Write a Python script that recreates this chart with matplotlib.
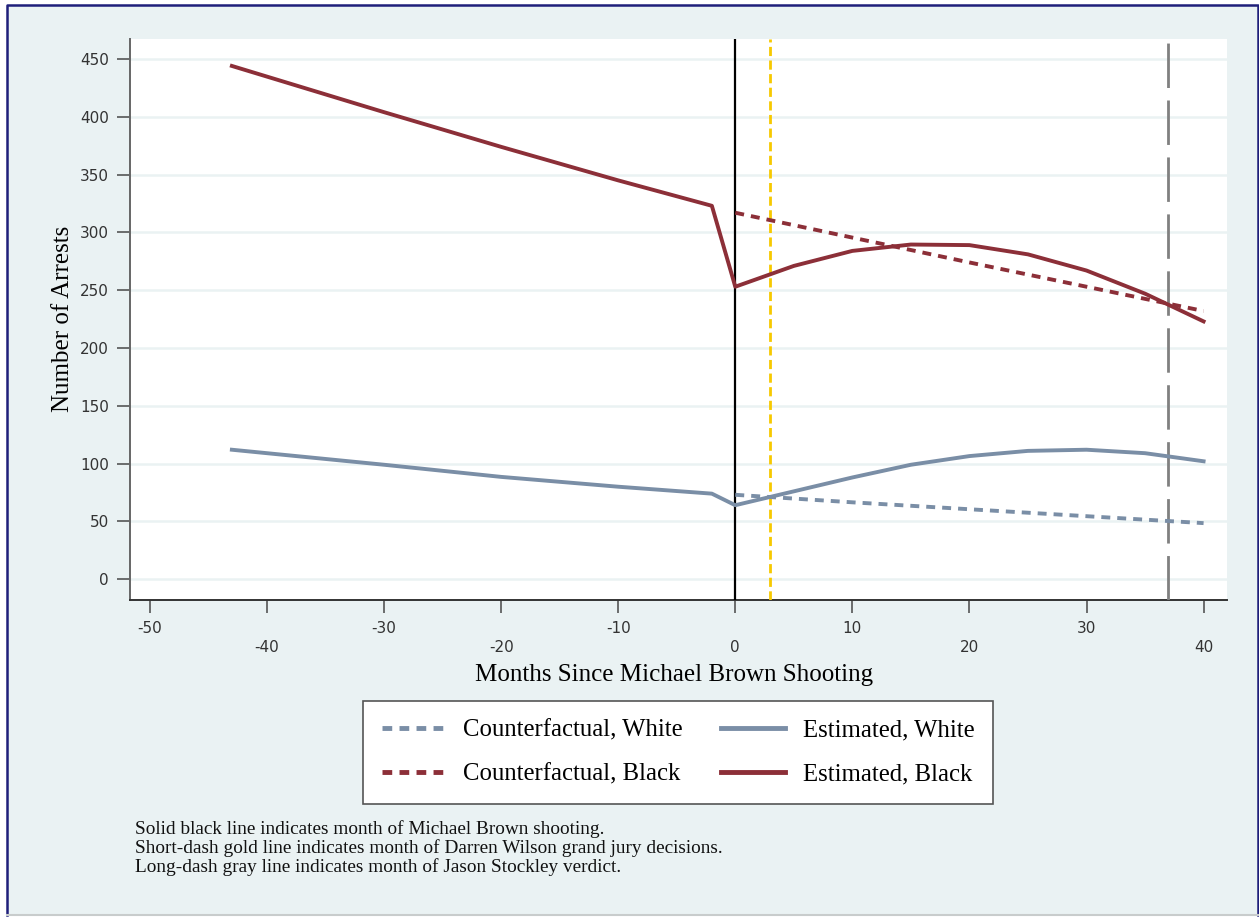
import matplotlib
matplotlib.use("Agg")
import matplotlib.pyplot as plt
from matplotlib.patches import Rectangle
from matplotlib.lines import Line2D

# estimated trends
months_pre = [-43, -30, -20, -10, -2]
months_post = [0, 5, 10, 15, 20, 25, 30, 35, 40]
est_black_pre = [444, 404, 374, 345, 323]
est_black_post = [253, 271, 284, 289.5, 289, 281, 267, 247, 223]
est_white_pre = [112, 99, 88.5, 80, 74]
est_white_post = [64, 76, 88, 99, 106.5, 111, 112, 109, 102]

# counterfactual trends (post period only)
cf_months = [0, 10, 20, 30, 40]
cf_black = [317, 295.5, 274, 253, 232]
cf_white = [73, 66.5, 60.5, 54.5, 48.5]

# event markers
shooting = 0
grand_jury = 3
stockley = 37

notes = ["Solid black line indicates month of Michael Brown shooting.",
         "Short-dash gold line indicates month of Darren Wilson grand jury decisions.",
         "Long-dash gray line indicates month of Jason Stockley verdict."]

red = "#8c2f38"
blue = "#7a8ea6"
bg = "#eaf2f3"
serif = "Liberation Serif"

plt.rcParams['axes.unicode_minus'] = False

W, H = 1259, 917
fig = plt.figure(figsize=(W/100, H/100), dpi=100)
fig.patch.set_facecolor("white")

# stata-ish background panel with border
fig.patches.append(Rectangle((7/W, 2/H), (1258-7)/W, (915-5)/H, transform=fig.transFigure,
                             facecolor=bg, edgecolor="none", zorder=-10))
fig.lines.append(Line2D([7/W, 7/W, 1258/W, 1258/W], [2/H, 1-5/H, 1-5/H, 2/H],
                        transform=fig.transFigure, color="#1f1f7a", lw=1.8))
fig.lines.append(Line2D([7/W, 1258/W], [2/H, 2/H], transform=fig.transFigure,
                        color="#c8cccc", lw=1.5))

ax = fig.add_axes([130/W, 1-600/H, (1227-130)/W, (600-39)/H])
ax.set_facecolor("white")

ax.set_xlim(-51.7, 42)
ax.set_ylim(-18, 467.3)

# horizontal grid
ax.set_yticks(range(0, 451, 50))
ax.yaxis.grid(True, color=bg, lw=1.8)
ax.set_axisbelow(True)

# vertical event lines
ax.axvline(shooting, color="black", lw=1.6, zorder=3)
ax.axvline(grand_jury, color="#f7c900", lw=2, dashes=(3.3, 1.6), zorder=3)
ax.axvline(stockley, color="#808080", lw=2, dashes=(16, 4.5), zorder=3)

# series
lw = 2.8
dash = (2.3, 1.8)
ax.plot(cf_months, cf_white, color=blue, lw=lw, dashes=dash, zorder=4)
ax.plot(cf_months, cf_black, color=red, lw=lw, dashes=dash, zorder=4)
ax.plot(months_pre + months_post, est_white_pre + est_white_post, color=blue, lw=lw, zorder=4)
ax.plot(months_pre + months_post, est_black_pre + est_black_post, color=red, lw=lw, zorder=4)

# staggered x tick labels
ax.set_xticks([-50, -30, -10, 10, 30])
ax.set_xticks([-40, -20, 0, 20, 40], minor=True)
ax.set_xticklabels(["-50", "-30", "-10", "10", "30"])
ax.set_xticklabels(["-40", "-20", "0", "20", "40"], minor=True)
ax.tick_params(axis="x", which="both", length=9.4, width=1.2, color="#555555",
               labelsize=11, labelcolor="#333333")
ax.tick_params(axis="x", which="major", pad=5.5)
ax.tick_params(axis="x", which="minor", pad=19.5)
ax.tick_params(axis="y", length=9.4, width=1.2, color="#555555", labelsize=11,
               labelcolor="#333333", pad=5.8)

for s in ["top", "right"]:
    ax.spines[s].set_visible(False)
ax.spines["left"].set_color("#666666")
ax.spines["left"].set_linewidth(1.4)
ax.spines["bottom"].set_color("#333333")
ax.spines["bottom"].set_linewidth(1.4)

ax.set_xlabel("Months Since Michael Brown Shooting", fontsize=18, family=serif)
ax.xaxis.set_label_coords(0.4955, -0.114)
ax.set_ylabel("Number of Arrests", fontsize=18, family=serif)
ax.yaxis.set_label_coords(-0.051, 0.502)

handles = [
    Line2D([], [], color=blue, lw=3.5, dashes=(2.0, 1.5)),
    Line2D([], [], color=red, lw=3.5, dashes=(2.0, 1.5)),
    Line2D([], [], color=blue, lw=3.5),
    Line2D([], [], color=red, lw=3.5),
]
labels = ["Counterfactual, White", "Counterfactual, Black",
          "Estimated, White", "Estimated, Black"]
leg = fig.legend(handles, labels, ncol=2, loc="upper left",
                 bbox_to_anchor=(363/W, 1-701/H),
                 prop={"family": serif, "size": 17.8},
                 frameon=True, fancybox=False, framealpha=1,
                 edgecolor="#555555", handlelength=2.6, handletextpad=0.7,
                 columnspacing=1.55, labelspacing=0.85, borderpad=0.75,
                 borderaxespad=0)
leg.get_frame().set_linewidth(1.2)

for i, line in enumerate(notes):
    fig.text(135/W, 1-(829+19*i)/H, line, family=serif, fontsize=13.9,
             ha="left", va="center", color="#111111")

fig.savefig("out.png", dpi=100)
